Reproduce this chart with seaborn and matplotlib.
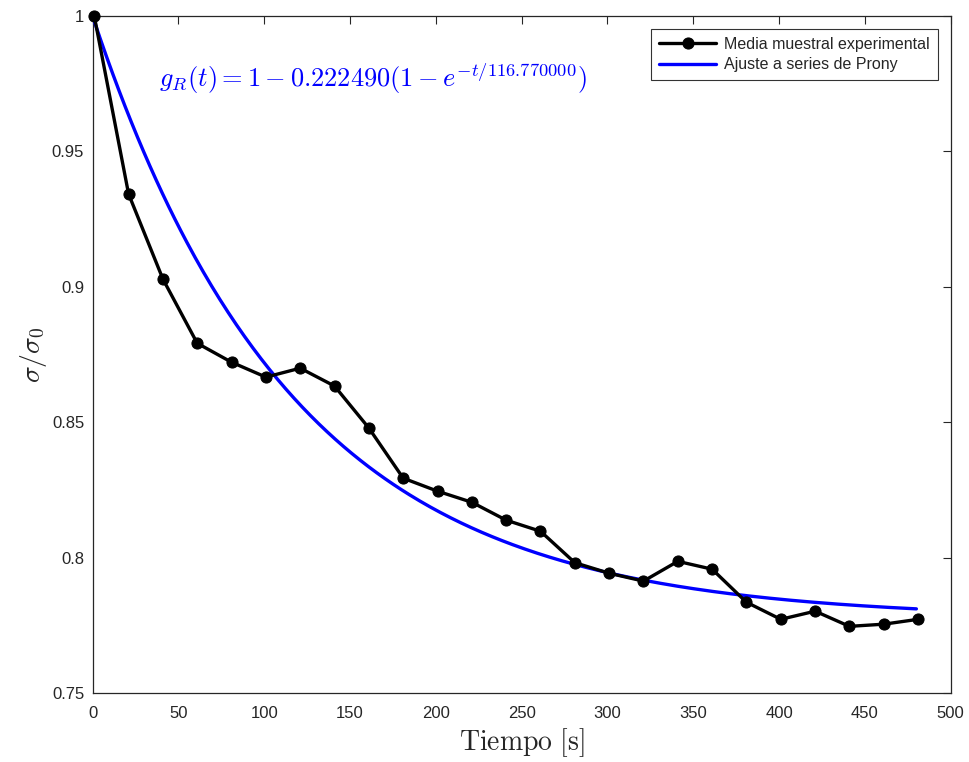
import numpy as np
import pandas as pd
import seaborn as sns
import matplotlib.pyplot as plt

# media muestral experimental
tiempo = [1, 21, 41, 61, 81, 101, 121, 141, 161, 181, 201, 221, 241,
          261, 281, 301, 321, 341, 361, 381, 401, 421, 441, 461, 481]
sigma_rel = [1.0, 0.9343, 0.9029, 0.8792, 0.8722, 0.8667, 0.8700, 0.8634,
             0.8479, 0.8294, 0.8246, 0.8205, 0.8139, 0.8098, 0.7982, 0.7943,
             0.7914, 0.7987, 0.7958, 0.7836, 0.7773, 0.7803, 0.7747, 0.7755,
             0.7773]

# parametros del ajuste de Prony (del texto del grafico)
g1 = 0.222490
tau = 116.770000
t_ajuste = np.linspace(1, 480, 400)
g_ajuste = 1 - g1 * (1 - np.exp(-t_ajuste / tau))

sns.set_style('white')
plt.rcParams['font.family'] = ['Liberation Sans', 'DejaVu Sans']
plt.rcParams['mathtext.fontset'] = 'cm'

df_exp = pd.DataFrame({'t': tiempo, 's': sigma_rel})
df_fit = pd.DataFrame({'t': t_ajuste, 's': g_ajuste})

fig = plt.figure(figsize=(9.7, 7.62), dpi=100)
ax = fig.add_axes([0.0954, 0.0902, 0.8847, 0.8888])

sns.lineplot(data=df_exp, x='t', y='s', ax=ax, color='black', lw=2.4,
             marker='o', markersize=8, markeredgecolor='black',
             label='Media muestral experimental', clip_on=False, zorder=4)
sns.lineplot(data=df_fit, x='t', y='s', ax=ax, color='#0000ff', lw=2.4,
             label='Ajuste a series de Prony', zorder=3)

ax.set_xlim(0, 500)
ax.set_ylim(0.75, 1)
ax.set_xticks(np.arange(0, 501, 50))
ax.set_yticks([0.75, 0.8, 0.85, 0.9, 0.95, 1])
ax.set_yticklabels(['0.75', '0.8', '0.85', '0.9', '0.95', '1'])
ax.tick_params(direction='in', top=True, right=True, length=6, width=0.8,
               labelsize=12, colors='#262626')
ax.tick_params(axis='x', pad=9)
ax.tick_params(axis='y', pad=6)
for sp in ax.spines.values():
    sp.set_color('#262626')
    sp.set_linewidth(0.9)

ax.set_xlabel(r'$\mathrm{Tiempo\ [s]}$', fontsize=20, labelpad=4)
ax.set_ylabel(r'$\sigma/\sigma_0$', fontsize=20, labelpad=2)

ax.text(39, 0.977, r'$g_R(t) = 1 - 0.222490(1 - e^{-t/116.770000})$',
        color='#0000ff', fontsize=19, va='center', ha='left')

leg = ax.legend(loc='upper right', fontsize=11.5, frameon=True, fancybox=False,
                edgecolor='black', borderpad=0.5, handlelength=3.6,
                handletextpad=0.5, labelspacing=0.35, borderaxespad=0.8)
leg.get_frame().set_linewidth(0.8)

fig.savefig('out.png', dpi=100)
